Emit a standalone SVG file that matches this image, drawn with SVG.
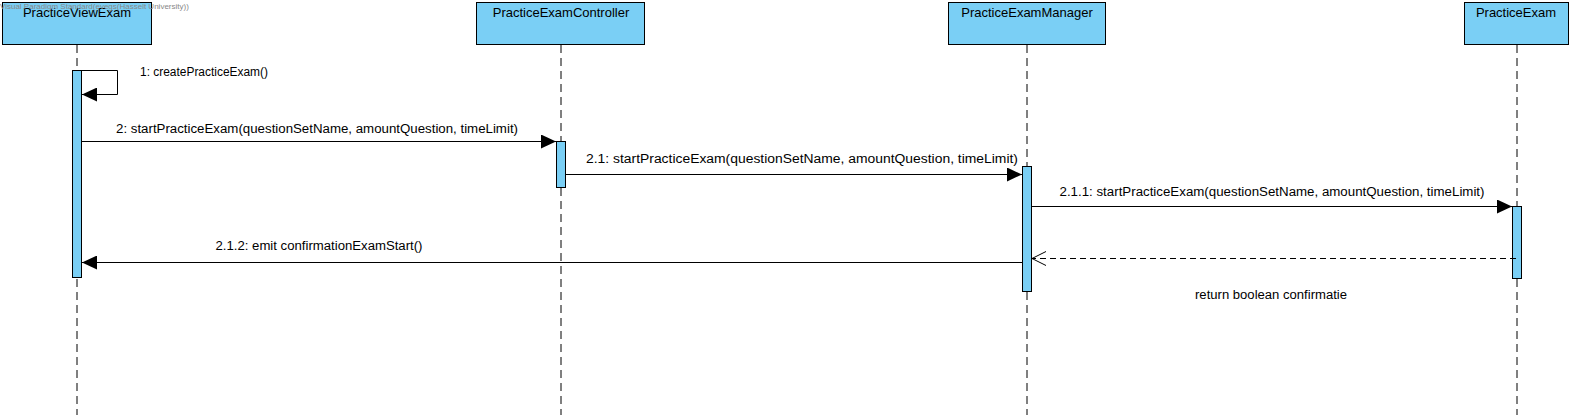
<svg xmlns="http://www.w3.org/2000/svg" width="1574" height="420" viewBox="0 0 1574 420">
<defs>
<style>
.head{fill:#7acff5;stroke:#000;stroke-width:1}
.bar{fill:#7acff5;stroke:#000;stroke-width:1}
.life{stroke:#000;stroke-width:1;stroke-dasharray:8,5;fill:none}
.msg{stroke:#000;stroke-width:1;fill:none}
.ret{stroke:#000;stroke-width:1;fill:none;stroke-dasharray:6,4}
.ht{font-family:"Liberation Sans",Arial,sans-serif;font-size:13px;fill:#000;text-anchor:middle}
.mt{font-family:"Liberation Sans",Arial,sans-serif;font-size:12.5px;fill:#000;text-anchor:middle}
.wm{font-family:"Liberation Sans",Arial,sans-serif;font-size:8px;fill:#888}
</style>
<marker id="filled" markerWidth="16" markerHeight="14" refX="15" refY="7" orient="auto" markerUnits="userSpaceOnUse">
<path d="M0,0 L15,7 L0,14 Z" fill="#000"/>
</marker>
<marker id="open" markerWidth="16" markerHeight="16" refX="14" refY="7" orient="auto" markerUnits="userSpaceOnUse">
<path d="M0,0 L14,7 L0,14" fill="none" stroke="#000" stroke-width="1"/>
</marker>
</defs>
<rect width="1574" height="420" fill="#fff"/>

<g id="lifelines">
<line class="life" x1="77" y1="45" x2="77" y2="415"/>
<line class="life" x1="561" y1="45" x2="561" y2="415"/>
<line class="life" x1="1027" y1="45" x2="1027" y2="415"/>
<line class="life" x1="1517" y1="45" x2="1517" y2="415"/>
</g>

<g id="PracticeViewExam">
<rect class="head" x="2.5" y="2.5" width="149" height="42"/>
<text class="ht" x="77" y="17">PracticeViewExam</text>
<rect class="bar" x="72.5" y="70.5" width="9" height="207"/>
</g>

<g id="PracticeExamController">
<rect class="head" x="476.5" y="2.5" width="168" height="42"/>
<text class="ht" x="561" y="17">PracticeExamController</text>
<rect class="bar" x="556.5" y="141.5" width="9" height="46"/>
</g>

<g id="PracticeExamManager">
<rect class="head" x="948.5" y="2.5" width="157" height="42"/>
<text class="ht" x="1027" y="17">PracticeExamManager</text>
<rect class="bar" x="1022.5" y="166.5" width="9" height="125"/>
</g>

<g id="PracticeExam">
<rect class="head" x="1464.5" y="2.5" width="104" height="42"/>
<text class="ht" x="1516" y="17">PracticeExam</text>
<rect class="bar" x="1512.5" y="206.5" width="9" height="72"/>
</g>

<g id="connectors">
<polyline class="msg" points="81.5,70.5 117.5,70.5 117.5,94.5 82,94.5" marker-end="url(#filled)"/>
<line class="msg" x1="81.5" y1="141.5" x2="556" y2="141.5" marker-end="url(#filled)"/>
<line class="msg" x1="565.5" y1="174.5" x2="1022" y2="174.5" marker-end="url(#filled)"/>
<line class="msg" x1="1031.5" y1="206.5" x2="1512" y2="206.5" marker-end="url(#filled)"/>
<line class="ret" x1="1516" y1="258.5" x2="1032" y2="258.5" marker-end="url(#open)"/>
<line class="msg" x1="1022.5" y1="262.5" x2="82" y2="262.5" marker-end="url(#filled)"/>
</g>

<g id="labels">
<text class="wm" x="0" y="9">Visual Paradigm Standard(evegs(Hasselt University))</text>
<text class="mt" x="204" y="76" textLength="128" lengthAdjust="spacingAndGlyphs">1: createPracticeExam()</text>
<text class="mt" x="317" y="133" textLength="402" lengthAdjust="spacingAndGlyphs">2: startPracticeExam(questionSetName, amountQuestion, timeLimit)</text>
<text class="mt" x="802" y="163" textLength="432" lengthAdjust="spacingAndGlyphs">2.1: startPracticeExam(questionSetName, amountQuestion, timeLimit)</text>
<text class="mt" x="1272" y="196" textLength="425" lengthAdjust="spacingAndGlyphs">2.1.1: startPracticeExam(questionSetName, amountQuestion, timeLimit)</text>
<text class="mt" x="319" y="250" textLength="207" lengthAdjust="spacingAndGlyphs">2.1.2: emit confirmationExamStart()</text>
<text class="mt" x="1271" y="299" textLength="152" lengthAdjust="spacingAndGlyphs">return boolean confirmatie</text>
</g>
</svg>
